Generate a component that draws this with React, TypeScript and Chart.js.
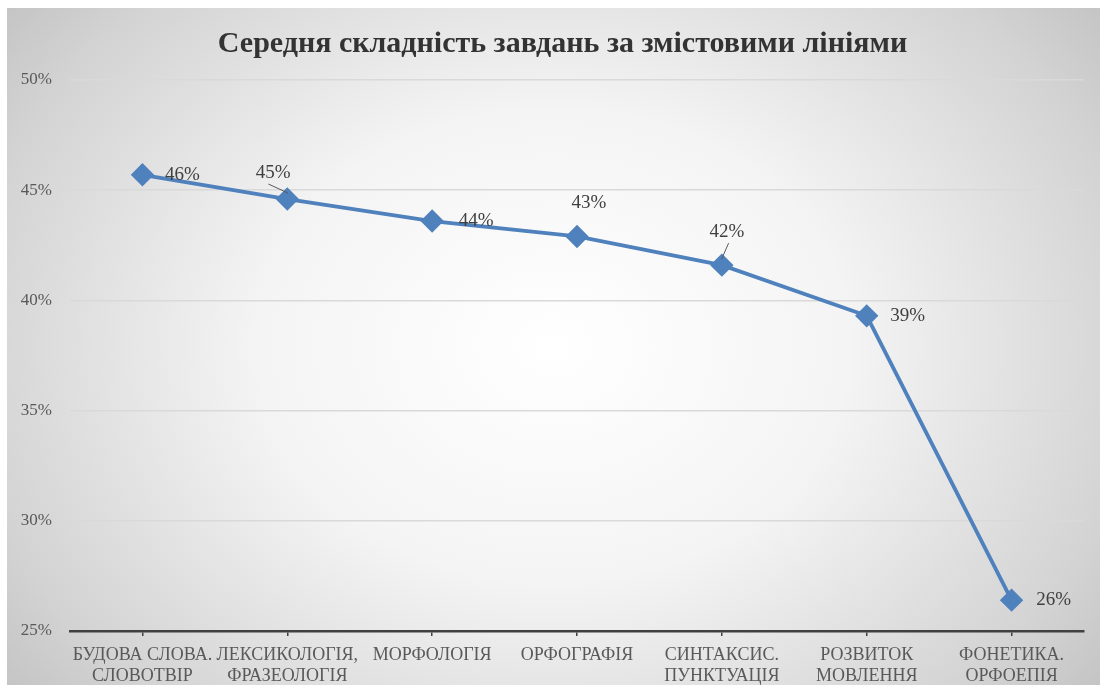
import React, { useEffect, useRef } from "react";
import { Chart, registerables } from "chart.js";

Chart.register(...registerables);

const chartTitle = "Середня складність завдань за змістовими лініями";
const categories: string[][] = [
  ["БУДОВА СЛОВА.", "СЛОВОТВІР"],
  ["ЛЕКСИКОЛОГІЯ,", "ФРАЗЕОЛОГІЯ"],
  ["МОРФОЛОГІЯ"],
  ["ОРФОГРАФІЯ"],
  ["СИНТАКСИС.", "ПУНКТУАЦІЯ"],
  ["РОЗВИТОК", "МОВЛЕННЯ"],
  ["ФОНЕТИКА.", "ОРФОЕПІЯ"],
];
const values: number[] = [45.7, 44.6, 43.6, 42.9, 41.6, 39.3, 26.4];
const yMin = 25;
const yMax = 50;
const yStep = 5;

// label placement style (offset of label centre from the point, in px) and leader lines
const labelOffsets: [number, number][] = [
  [40, 0],
  [-14, -26],
  [44, 0],
  [12, -33],
  [5, -33],
  [41, 0],
  [42, 0],
];
const labelLeaders: boolean[] = [false, true, false, false, true, false, false];

const SERIF = "'Liberation Serif', 'Times New Roman', serif";
const LINE_COLOR = "#4F81BD";

const bgPlugin = {
  id: "bgGradient",
  beforeDraw(chart: any) {
    const { ctx, width, height } = chart;
    ctx.save();
    const cx = width / 2;
    const cy = height / 2;
    const sy = 0.8;
    ctx.translate(cx, cy);
    ctx.scale(1, sy);
    const r = (width / 2) * 1.35;
    const g = ctx.createRadialGradient(0, 0, 0, 0, 0, r);
    g.addColorStop(0, "#ffffff");
    g.addColorStop(0.4, "#f4f4f4");
    g.addColorStop(0.8, "#d3d3d3");
    g.addColorStop(1, "#bebebe");
    ctx.fillStyle = g;
    ctx.fillRect(-cx, -cy / sy, width, height / sy);
    ctx.restore();
  },
};

const titlePlugin = {
  id: "offsetTitle",
  afterDraw(chart: any) {
    const { ctx, width } = chart;
    ctx.save();
    ctx.font = `bold 30px ${SERIF}`;
    ctx.fillStyle = "#333333";
    ctx.textAlign = "center";
    ctx.textBaseline = "middle";
    ctx.fillText(chartTitle, width / 2 + 9, 36);
    ctx.restore();
  },
};

const labelPlugin = {
  id: "pointLabels",
  afterDatasetsDraw(chart: any) {
    const { ctx } = chart;
    const meta = chart.getDatasetMeta(0);
    ctx.save();
    ctx.font = `19px ${SERIF}`;
    ctx.fillStyle = "#404040";
    ctx.textAlign = "center";
    ctx.textBaseline = "middle";
    meta.data.forEach((pt: any, i: number) => {
      const [dx, dy] = labelOffsets[i];
      const x = pt.x + dx;
      const y = pt.y + dy;
      if (labelLeaders[i]) {
        ctx.strokeStyle = "#595959";
        ctx.lineWidth = 1;
        ctx.beginPath();
        ctx.moveTo(x + dx * 0.35, y + 11);
        ctx.lineTo(pt.x - dx * 0.05, pt.y - 6);
        ctx.stroke();
      }
      ctx.fillText(Math.round(values[i]) + "%", x, y);
    });
    ctx.restore();
  },
};

export default function App() {
  const ref = useRef<HTMLCanvasElement | null>(null);
  useEffect(() => {
    document.body.style.margin = "0";
    const canvas = ref.current!;
    const chart = new Chart(canvas, {
      type: "line",
      data: {
        labels: categories,
        datasets: [
          {
            data: values,
            borderColor: LINE_COLOR,
            backgroundColor: LINE_COLOR,
            borderWidth: 3.8,
            pointStyle: "rectRot",
            pointRadius: 9,
            pointHoverRadius: 9,
            pointBackgroundColor: LINE_COLOR,
            pointBorderColor: LINE_COLOR,
            tension: 0,
          },
        ],
      },
      options: {
        responsive: false,
        animation: false,
        layout: { padding: { left: 0, right: 16, top: 72, bottom: 0 } },
        plugins: {
          legend: { display: false },
          tooltip: { enabled: false },
          title: { display: false },
        },
        scales: {
          x: {
            offset: true,
            grid: {
              drawOnChartArea: false,
              drawTicks: true,
              tickLength: 5,
              offset: false,
              color: "#404040",
              lineWidth: 1.5,
            },
            border: { display: true, color: "#404040", width: 2.5 },
            ticks: {
              color: "#595959",
              font: { family: SERIF, size: 18, lineHeight: 1.17 },
              padding: 9,
              maxRotation: 0,
              autoSkip: false,
            },
            afterFit(scale: any) {
              scale.height = 54;
            },
          },
          y: {
            min: yMin,
            max: yMax,
            grid: {
              color: "#d9d9d9",
              lineWidth: 1.5,
              drawTicks: false,
            },
            border: { display: false },
            ticks: {
              stepSize: yStep,
              color: "#595959",
              font: { family: SERIF, size: 17 },
              padding: 18,
              callback: (v: any) => v + "%",
            },
            afterFit(scale: any) {
              scale.width = 63;
            },
          },
        },
      },
      plugins: [bgPlugin, labelPlugin, titlePlugin],
    });
    return () => chart.destroy();
  }, []);
  return (
    <div style={{ paddingLeft: 7, paddingTop: 8, width: 1093, height: 677, background: "#ffffff" }}>
      <canvas ref={ref} width={1093} height={677} style={{ display: "block" }} />
    </div>
  );
}
